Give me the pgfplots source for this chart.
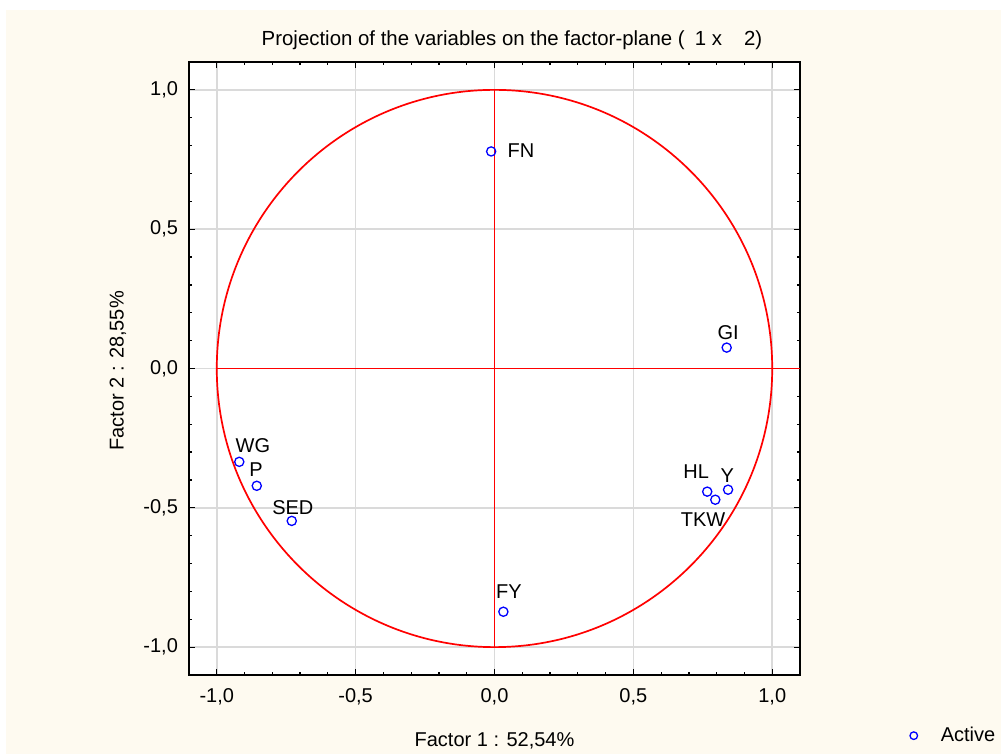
\documentclass[border=0pt]{standalone}
\usepackage{pgfplots}
\pgfplotsset{compat=1.18}
\usepackage{fontspec}
\setmainfont{Liberation Sans}
\definecolor{cream}{RGB}{254,250,240}
\definecolor{gridgray}{RGB}{218,218,218}
\definecolor{ptblue}{RGB}{0,0,255}
\begin{document}
\fontsize{10}{12}\selectfont
\begin{tikzpicture}
\fill[white] (-94.5pt,-39.5pt) rectangle (406pt,337.5pt);
\fill[cream] (-91.5pt,-39.5pt) rectangle (406pt,332.5pt);
\useasboundingbox (-94.5pt,-39.5pt) rectangle (406pt,337.5pt);
\begin{axis}[
  at={(0pt,0pt)}, anchor=south west,
  width=305.5pt, height=306.5pt, scale only axis,
  xmin=-1.1, xmax=1.1, ymin=-1.1, ymax=1.1,
  axis background/.style={fill=white},
  xtick={-1,-0.5,0,0.5,1}, ytick={-1,-0.5,0,0.5,1},
  minor tick num=4,
  tick align=inside,
  major tick length=3pt, minor tick length=1.5pt,
  tick style={black, line width=0.6pt},
  grid=major, major grid style={gridgray, line width=0.75pt},
  axis line style={line width=0.9pt},
  /pgf/number format/.cd, fixed, fixed zerofill, precision=1, use comma, assume math mode=true,
  /pgfplots/.cd,
  tick label style={font=\fontsize{10}{12}\selectfont},
  xticklabel style={yshift=-3pt},
  yticklabel style={xshift=-2pt},
  legend style={at={(1.179,-0.099)}, anchor=west, draw=none, fill=none, inner sep=0pt, font=\fontsize{10}{12}\selectfont},
  legend image code/.code={\path[draw=none] (-2pt,0pt) -- (11.5pt,0pt); \draw[#1, mark size=1.9pt] plot coordinates {(0pt,0pt)};},
]
\draw[red, line width=0.85pt] (axis cs:0,0) circle [radius=1];
\draw[red, line width=0.85pt] (axis cs:-1,0) -- (axis cs:1.1,0);
\draw[red, line width=0.85pt] (axis cs:0,-1) -- (axis cs:0,1);
\addplot[only marks, mark=o, mark size=2.3pt, mark options={ptblue, line width=0.65pt}] coordinates {
(-0.012,0.779) (0.836,0.075) (-0.919,-0.335) (-0.856,-0.421) (-0.730,-0.547)
(0.032,-0.873) (0.766,-0.442) (0.795,-0.471) (0.841,-0.435)};
\addlegendentry{Active}
\node at (axis cs:0.0955,0.781) {FN};
\node at (axis cs:0.841,0.129) {GI};
\node at (axis cs:-0.870,-0.277) {WG};
\node at (axis cs:-0.859,-0.363) {P};
\node at (axis cs:-0.726,-0.500) {SED};
\node at (axis cs:0.052,-0.802) {FY};
\node at (axis cs:0.726,-0.371) {HL};
\node at (axis cs:0.838,-0.385) {Y};
\node at (axis cs:0.751,-0.543) {TKW};
\end{axis}
\node at (161.5pt,317.5pt) {\fontsize{10.2}{12}\selectfont Projection of the variables on the factor-plane (\hspace{0.5em}1 x \hspace{0.8em}2)};
\node at (152.75pt,-33pt) {Factor 1 : 52,54\%};
\node[rotate=90] at (-35.5pt,152pt) {Factor 2 : 28,55\%};
\end{tikzpicture}
\end{document}
